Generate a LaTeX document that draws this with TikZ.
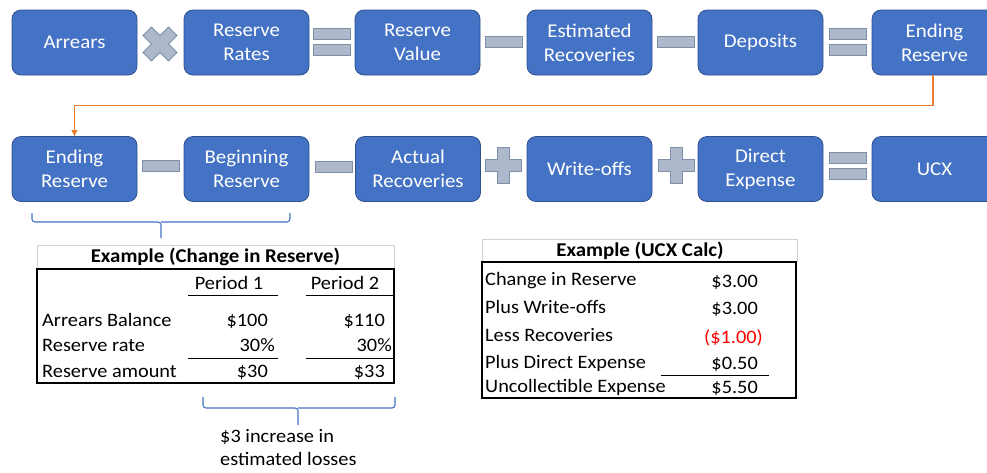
\documentclass[tikz,border=0pt]{standalone}
\usepackage{fontspec}
\setmainfont[FakeStretch=1.07]{Carlito}
\usetikzlibrary{arrows.meta}
\definecolor{boxblue}{HTML}{4472C4}
\definecolor{boxedge}{HTML}{2F528F}
\definecolor{opfill}{HTML}{ADB9CA}
\definecolor{opedge}{HTML}{7F8FA9}
\definecolor{arrorange}{HTML}{ED7D31}
\definecolor{hdrgray}{HTML}{D0D0D0}
\definecolor{negred}{HTML}{FF0000}
\tikzset{
  blk/.style={rounded corners=9pt, fill=boxblue, draw=boxedge, line width=0.8pt,
    minimum width=125pt, minimum height=65pt, text=white, align=center,
    font=\fontsize{19.5}{24}\selectfont, inner sep=0pt},
  op/.style={fill=opfill, draw=opedge, line width=0.8pt},
  tt/.style={inner sep=0pt, font=\fontsize{19}{22}\selectfont, text height=13pt, text depth=4pt},
  tth/.style={tt, font=\bfseries\fontsize{19.5}{22}\selectfont},
  rule/.style={line width=0.8pt, draw=black},
  brace/.style={draw=boxblue, line width=1.1pt, rounded corners=3pt},
  eqsign/.pic={\path[op] (-18.5,-13.5) rectangle (18.5,-2.5); \path[op] (-18.5,2.5) rectangle (18.5,13.5);},
  minussign/.pic={\path[op] (-18.5,-5.5) rectangle (18.5,5.5);},
  plussign/.pic={\path[op] (-6,-18) -- (6,-18) -- (6,-6) -- (18,-6) -- (18,6) -- (6,6) -- (6,18) -- (-6,18) -- (-6,6) -- (-18,6) -- (-18,-6) -- (-6,-6) -- cycle;}
}
\begin{document}
\begin{tikzpicture}[x=1pt,y=-1pt]
\useasboundingbox (0,0) rectangle (987,472);
% row 1
\node[blk] (arr) at (74.5,42.5) {Arrears};
\node[blk] (rr) at (246.5,42.5) {Reserve\\Rates};
\node[blk] (rv) at (417.5,42.5) {Reserve\\Value};
\node[blk] (er) at (589.5,42.5) {Estimated\\Recoveries};
\node[blk] (dep) at (760.5,42.5) {Deposits};
\node[blk] (end1) at (934.5,42.5) {Ending\\Reserve};
\pic[rotate=45] at (160,44) {plussign};
\pic at (331.5,41.5) {eqsign};
\pic at (503.5,42) {minussign};
\pic at (676,42) {minussign};
\pic at (847.5,41.5) {eqsign};
% row 2
\node[blk] (end2) at (74.5,169) {Ending\\Reserve};
\node[blk] (beg) at (246.5,169) {Beginning\\Reserve};
\node[blk] (act) at (418,169) {Actual\\Recoveries};
\node[blk] (wo) at (589.5,169) {Write-offs};
\node[blk] (de) at (760.5,169) {Direct\\Expense};
\node[blk] (ucx) at (934.5,169) {UCX};
\pic at (161,166) {minussign};
\pic at (333.5,167) {minussign};
\pic at (503.5,165.5) {plussign};
\pic at (676,165.5) {plussign};
\pic at (847.5,165.5) {eqsign};
% orange connector
\draw[draw=arrorange, line width=1.1pt, -{Triangle[width=6pt,length=6pt]}]
  ([xshift=-1.5pt]end1.south) -- ++(0,30) -| (end2.north);
% braces
\draw[brace] (32,213) -- (32,222) -- (161,222) -- (161,238);
\draw[brace] (161,222) -- (290,222) -- (290,213);
\draw[brace] (203,397) -- (203,408) -- (298,408) -- (298,425);
\draw[brace] (298,408) -- (395,408) -- (395,397);
\node[anchor=north west, inner sep=0pt, align=left, font=\fontsize{19}{23}\selectfont] (note) at (220,429) {\$3 increase in\\estimated losses};
% table 1
\draw[hdrgray, line width=0.8pt] (37,269) -- (37,245) -- (394,245) -- (394,269);
\draw[line width=1.2pt] (37,269) rectangle (394,383);
\node[tth] (t1h) at (215.5,258) {Example (Change in Reserve)};
\node[tt] (p1) at (229,285) {Period 1};
\node[tt] (p2) at (345,285) {Period 2};
\draw[rule] (188,295) -- (278,295);
\draw[rule] (306,295) -- (393,295);
\node[tt, anchor=west] (l1) at (42,322) {Arrears Balance};
\node[tt, anchor=west] (l2) at (42,347) {Reserve rate};
\node[tt, anchor=west] (l3) at (42,373) {Reserve amount};
\node[tt, anchor=east] (a1) at (268,322) {\$100};
\node[tt, anchor=east] (a2) at (275,347) {30\%};
\node[tt, anchor=east] (a3) at (268,373) {\$30};
\node[tt, anchor=east] (b1) at (385,322) {\$110};
\node[tt, anchor=east] (b2) at (392,347) {30\%};
\node[tt, anchor=east] (b3) at (385,373) {\$33};
\draw[rule] (188,358) -- (278,358);
\draw[rule] (306,358) -- (393,358);
% table 2
\draw[hdrgray, line width=0.8pt] (482,262) -- (482,239) -- (797,239) -- (797,262);
\draw[line width=1.2pt] (482,262) rectangle (796,398);
\node[tth] (t2h) at (640,252) {Example (UCX Calc)};
\node[tt, anchor=west] (c1) at (485,281) {Change in Reserve};
\node[tt, anchor=west] (c2) at (485,309) {Plus Write-offs};
\node[tt, anchor=west] (c3) at (485,337) {Less Recoveries};
\node[tt, anchor=west] (c4) at (485,364) {Plus Direct Expense};
\node[tt, anchor=west] (c5) at (485,388) {Uncollectible Expense};
\node[tt, anchor=east] (v1) at (758,283) {\$3.00};
\node[tt, anchor=east] (v2) at (758,310) {\$3.00};
\node[tt, anchor=east, text=negred] (v3) at (763,339) {(\$1.00)};
\node[tt, anchor=east] (v4) at (758,365) {\$0.50};
\node[tt, anchor=east] (v5) at (758,389) {\$5.50};
\draw[rule] (661,375) -- (769,375);
\end{tikzpicture}
\end{document}
